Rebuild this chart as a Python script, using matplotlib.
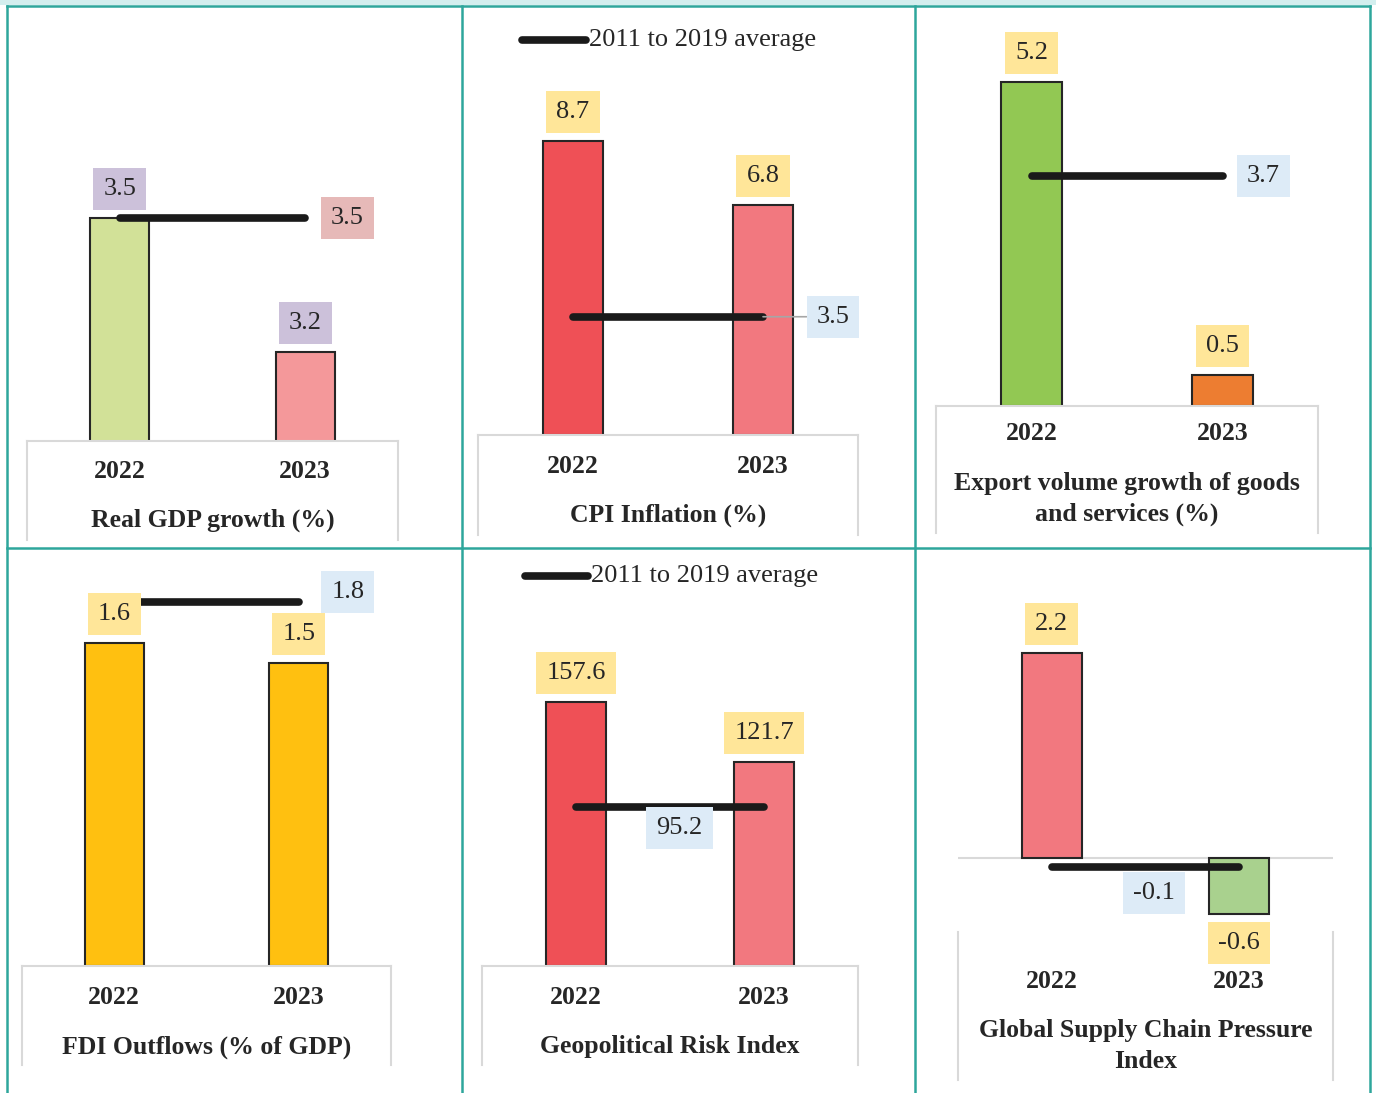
import matplotlib
matplotlib.use("Agg")
import matplotlib.pyplot as plt
from matplotlib.lines import Line2D
from matplotlib.patches import Rectangle

W, H = 1376, 1093
plt.rcParams['font.family'] = ['Liberation Serif', 'DejaVu Serif']
plt.rcParams['text.color'] = '#262626'

# ------------------------------------------------------------------
# Data
# ------------------------------------------------------------------
years = ["2022", "2023"]
avg_label = "2011 to 2019 average"

gdp = [3.5, 3.2]
gdp_avg = 3.5
cpi = [8.7, 6.8]
cpi_avg = 3.5
exports = [5.2, 0.5]
exports_avg = 3.7
fdi = [1.6, 1.5]
fdi_avg = 1.8
gpr = [157.6, 121.7]
gpr_avg = 95.2
gscpi = [2.2, -0.6]
gscpi_avg = -0.1

titles = ["Real GDP growth (%)",
          "CPI Inflation (%)",
          "Export volume growth of goods\nand services (%)",
          "FDI Outflows (% of GDP)",
          "Geopolitical Risk Index",
          "Global Supply Chain Pressure\nIndex"]

# ------------------------------------------------------------------
# Styles
# ------------------------------------------------------------------
TEAL = '#2EA69C'
GRID = '#D9D9D9'
EDGE = '#262626'
YELLOW = '#FFE699'
BLUE = '#DDEBF7'
FS = 18.5
TAG_FS = 19

fig = plt.figure(figsize=(W / 100, H / 100), dpi=100)


def fx(x):
    return x / W


def fy(y):
    return 1 - y / H


def px_axes(x0, y0, x1, y1):
    return fig.add_axes([fx(x0), fy(y1), (x1 - x0) / W, (y1 - y0) / H])


def fig_line(xs, ys, **kw):
    fig.add_artist(Line2D([fx(x) for x in xs], [fy(y) for y in ys],
                          transform=fig.transFigure, **kw))


def legend_at(x0, x1, y):
    fig_line([x0, x1], [y, y], color='#1a1a1a', lw=5.5, solid_capstyle='round')
    fig.text(fx(x1 + 3), fy(y), avg_label, fontsize=TAG_FS, ha='left', va='center')


def tag(ax, x, y, text, bg, dx=0, dy=0, z=6, **kw):
    return ax.annotate(text, xy=(x, y), xytext=(dx, dy), textcoords='offset pixels',
                       ha='center', va='center', fontsize=TAG_FS, zorder=z,
                       bbox=dict(boxstyle='square,pad=0.38', fc=bg, ec='none'),
                       annotation_clip=False, **kw)


panels = [
    dict(vals=gdp, avg=gdp_avg, colors=['#D2E198', '#F4989A'], tag_bg='#CCC1DA',
         avg_bg='#E6B9B8', box=(27, 398), top=15, base=441, bottom=540,
         ylim=(3.0, 3.954), year_y=471, title_y=520, avg_x=1, avg_off=(42, 0)),
    dict(vals=cpi, avg=cpi_avg, colors=['#EF5056', '#F2787F'], tag_bg=YELLOW,
         avg_bg=BLUE, box=(478, 858), top=15, base=435, bottom=535,
         ylim=(0, 12.43), year_y=467, title_y=515, avg_x=1, avg_off=(70, 0),
         leader=True),
    dict(vals=exports, avg=exports_avg, colors=['#92C853', '#ED7D31'], tag_bg=YELLOW,
         avg_bg=BLUE, box=(936, 1318), top=15, base=406, bottom=533,
         ylim=(0, 6.28), year_y=434, title_y=499, avg_x=1, avg_off=(41, 0)),
    dict(vals=fdi, avg=fdi_avg, colors=['#FFC010', '#FFC010'], tag_bg=YELLOW,
         avg_bg=BLUE, box=(22, 391), top=555, base=966, bottom=1065,
         ylim=(0, 2.035), year_y=998, title_y=1047, avg_x=1, avg_off=(49, 10)),
    dict(vals=gpr, avg=gpr_avg, colors=['#EF5056', '#F2787F'], tag_bg=YELLOW,
         avg_bg=BLUE, box=(482, 858), top=555, base=966, bottom=1065,
         ylim=(0, 245.7), year_y=998, title_y=1047, avg_x=0.55, avg_off=(0, -21)),
    dict(vals=gscpi, avg=gscpi_avg, colors=['#F2787F', '#A9D18E'], tag_bg=YELLOW,
         avg_bg=BLUE, box=(958, 1333), top=555, base=932, bottom=1080,
         ylim=(-0.796, 3.258), year_y=982, title_y=1046, avg_x=0.545,
         avg_off=(0, -26), zero=True),
]

for p, title in zip(panels, titles):
    x0, x1 = p['box']
    ax = px_axes(x0, p['top'], x1, p['base'])
    ax.set_xlim(-0.5, 1.5)
    ax.set_ylim(*p['ylim'])
    ax.patch.set_alpha(0)
    ax.set_xticks([])
    ax.set_yticks([])
    for s in ['left', 'right', 'top']:
        ax.spines[s].set_visible(False)
    if p.get('zero'):
        ax.spines['bottom'].set_visible(False)
        ax.axhline(0, color=GRID, lw=1.5, zorder=1)
    else:
        ax.spines['bottom'].set_color(GRID)
        ax.spines['bottom'].set_linewidth(1.5)

    xs = range(len(p['vals']))
    ax.bar(xs, p['vals'], width=0.32, color=p['colors'], edgecolor=EDGE,
           linewidth=1.5, zorder=2)

    # historical average line
    ax.plot([0, 1], [p['avg'], p['avg']], color='#1a1a1a', lw=5.5,
            solid_capstyle='round', zorder=4)
    if p.get('leader'):
        tag(ax, p['avg_x'], p['avg'], f"{p['avg']:.1f}", p['avg_bg'],
            dx=p['avg_off'][0], dy=p['avg_off'][1],
            arrowprops=dict(arrowstyle='-', color='#A6A6A6', lw=1.2,
                            shrinkA=0, shrinkB=0))
    else:
        tag(ax, p['avg_x'], p['avg'], f"{p['avg']:.1f}", p['avg_bg'],
            dx=p['avg_off'][0], dy=p['avg_off'][1])

    # value tags on the bars
    for x, v in zip(xs, p['vals']):
        tag(ax, x, v, f"{v:.1f}", p['tag_bg'], dy=29 if v >= 0 else -29)

    # category box underneath
    cb = px_axes(x0, p['base'], x1, p['bottom'])
    cb.set_xlim(-0.5, 1.5)
    cb.set_ylim(p['bottom'], p['base'])
    cb.patch.set_alpha(0)
    cb.set_xticks([])
    cb.set_yticks([])
    cb.spines['bottom'].set_visible(False)
    cb.spines['top'].set_visible(False)
    for s in ['left', 'right']:
        cb.spines[s].set_color(GRID)
        cb.spines[s].set_linewidth(1.5)
    for x, yr in zip(xs, years):
        cb.text(x, p['year_y'], yr, ha='center', va='center', fontsize=FS,
                fontweight='bold')
    cb.text(0.5, p['title_y'], title, ha='center', va='center', fontsize=FS,
            fontweight='bold', linespacing=1.45)

legend_at(522, 586, 40)
legend_at(525, 588, 576)

# panel frame
fig.add_artist(Rectangle((0, fy(5)), 1, 5 / H, transform=fig.transFigure,
                         fc='#D3EEEE', ec='none', zorder=0))
frame = dict(color=TEAL, lw=1.8)
fig_line([7, 1370], [6, 6], **frame)
fig_line([7, 1370], [548, 548], **frame)
for x in [7, 462, 915, 1370]:
    fig_line([x, x], [6, H], **frame)

fig.savefig("out.png", dpi=100)
